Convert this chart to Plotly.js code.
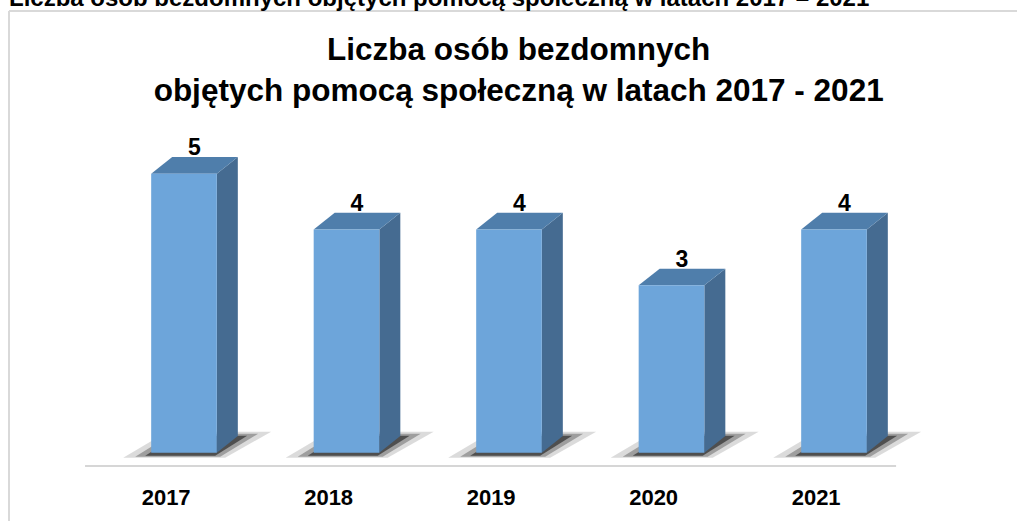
<!DOCTYPE html>
<html>
<head>
<meta charset="utf-8">
<script src="https://cdn.plot.ly/plotly-3.0.1.min.js"></script>
<style>html,body{margin:0;padding:0;background:#fff;}</style>
</head>
<body>
<div id="chart" style="width:1017px;height:521px;"></div>
<script>
// ---- data ----
const years = ['2017', '2018', '2019', '2020', '2021'];
const counts = [5, 4, 4, 3, 4];
const chartTitle = 'Liczba osób bezdomnych<br>objętych pomocą społeczną w latach 2017 - 2021';
const caption = 'Liczba osób bezdomnych objętych pomocą społeczną w latach 2017 – 2021';

// ---- styling / geometry (not data) ----
const FRONT = '#6DA5DA', SIDE = '#456B91', TOP = '#4F7EAB';
const PX_X = 162.5;          // px per x unit
const PX_Y = 357 / 6.4;      // px per y unit
const W = 0.404;             // front face width (x units)
const DX = 21 / PX_X;        // depth offset x
const DY = 16.7 / PX_Y;      // depth offset y
const idx = years.map((_, i) => i);

function path(pts) {
  return 'M' + pts.map(p => p[0] + ',' + p[1]).join(' L') + ' Z';
}
const shapes = [];
// floor line
shapes.push({type: 'line', xref: 'x', yref: 'y', x0: -0.609, x1: 4.382, y0: -13.3 / PX_Y, y1: -13.3 / PX_Y,
  line: {color: '#D6D6D6', width: 2}, layer: 'below'});
// shadows
const shadowLayers = [
  {op: 0.14, pts: [[-28, -5], [74, -5], [120, 21], [16, 21]]},
  {op: 0.28, pts: [[-16, -4], [69, -4], [107, 19], [21, 19]]},
  {op: 0.50, pts: [[-6, -3], [64, -3], [96, 17], [26, 17]]}
];
idx.forEach(i => {
  const left = i - W / 2;
  shadowLayers.forEach(s => {
    shapes.push({type: 'path', xref: 'x', yref: 'y', layer: 'below',
      path: path(s.pts.map(p => [left + p[0] / PX_X, p[1] / PX_Y])),
      fillcolor: 'rgba(0,0,0,' + s.op + ')', line: {width: 0}});
  });
});
// side and top faces
idx.forEach(i => {
  const l = i - W / 2, r = i + W / 2, v = counts[i];
  shapes.push({type: 'path', xref: 'x', yref: 'y', layer: 'below',
    path: path([[r, 0], [r + DX, DY], [r + DX, v + DY], [r, v]]),
    fillcolor: SIDE, line: {width: 0}});
  shapes.push({type: 'path', xref: 'x', yref: 'y', layer: 'below',
    path: path([[l, v], [r, v], [r + DX, v + DY], [l + DX, v + DY]]),
    fillcolor: TOP, line: {width: 0}});
});
// outer frame
const PLOT_L = 54, PLOT_W = 910, PLOT_T = 118, PLOT_H = 357;
const pxX = px => (px - PLOT_L) / PLOT_W;
const pxY = py => 1 - (py - PLOT_T) / PLOT_H;
shapes.push({type: 'line', xref: 'paper', yref: 'paper', x0: pxX(9), x1: pxX(9), y0: pxY(11), y1: pxY(530),
  line: {color: '#D9D9D9', width: 2}});
shapes.push({type: 'line', xref: 'paper', yref: 'paper', x0: pxX(9), x1: pxX(1030), y0: pxY(11), y1: pxY(11),
  line: {color: '#D9D9D9', width: 2}});

const FONT = 'Liberation Sans, Arial, sans-serif';

const traces = [
  {type: 'bar', x: idx, y: counts, width: W, marker: {color: FRONT, line: {width: 0}},
    hoverinfo: 'skip', showlegend: false},
  {type: 'scatter', mode: 'text', x: idx.map(i => i - W / 2 + (W + DX) / 2),
    y: counts.map(v => v + DY - 4 / PX_Y), text: counts.map(String), textposition: 'top center',
    textfont: {family: FONT, size: 23, color: '#000', weight: 'bold'},
    hoverinfo: 'skip', showlegend: false, cliponaxis: false}
];

const layout = {
  width: 1017, height: 521,
  margin: {l: PLOT_L, r: 1017 - PLOT_L - PLOT_W, t: PLOT_T, b: 521 - PLOT_T - PLOT_H},
  paper_bgcolor: '#fff', plot_bgcolor: '#fff',
  font: {family: FONT, color: '#000'},
  title: {text: chartTitle, font: {family: FONT, size: 31.5, weight: 'bold', color: '#000'},
    xref: 'container', x: 0.51, xanchor: 'center', yref: 'container', y: 0.884, yanchor: 'top'},
  xaxis: {range: [-0.8, 4.8], tickvals: idx.map(i => i - 0.11), ticktext: years,
    showgrid: false, zeroline: false, showline: false, ticks: 'outside', ticklen: 3, tickcolor: 'rgba(0,0,0,0)',
    tickfont: {family: FONT, size: 22, weight: 'bold', color: '#000'}, fixedrange: true},
  yaxis: {range: [-0.4, 6], visible: false, showgrid: false, zeroline: false, fixedrange: true},
  shapes: shapes,
  annotations: [{text: caption, xref: 'paper', yref: 'paper', x: pxX(7), xanchor: 'left',
    y: pxY(13), yanchor: 'bottom', showarrow: false,
    font: {family: FONT, size: 24, weight: 'bold', color: '#000'}}],
  showlegend: false
};

Plotly.newPlot('chart', traces, layout, {displayModeBar: false, staticPlot: true});
</script>
</body>
</html>
